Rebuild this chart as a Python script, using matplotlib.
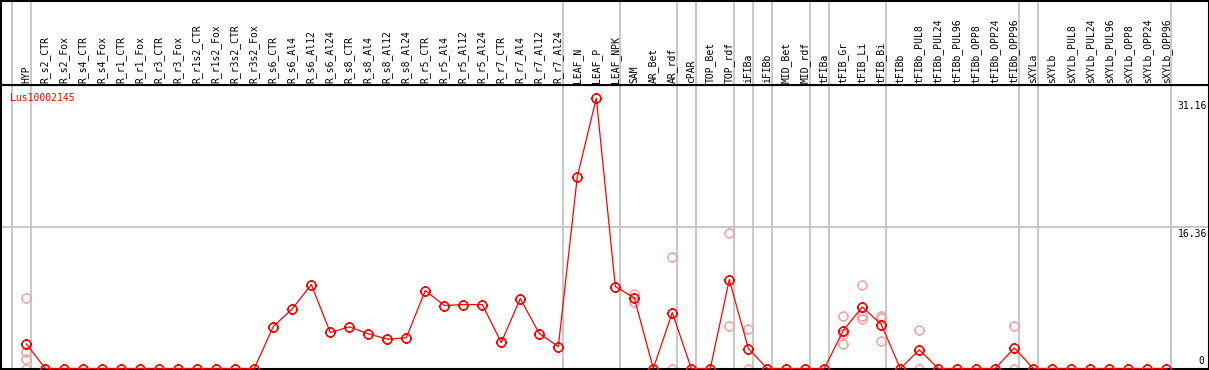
import matplotlib
matplotlib.use('Agg')
import matplotlib.pyplot as plt
import matplotlib.path as mpath

#############
# Data
#############

categories = ['HYP', 'R_s2_CTR', 'R_s2_Fox', 'R_s4_CTR', 'R_s4_Fox', 'R_r1_CTR', 'R_r1_Fox',
              'R_r3_CTR', 'R_r3_Fox', 'R_r1s2_CTR', 'R_r1s2_Fox', 'R_r3s2_CTR', 'R_r3s2_Fox',
              'R_s6_CTR', 'R_s6_Al4', 'R_s6_Al12', 'R_s6_Al24', 'R_s8_CTR', 'R_s8_Al4',
              'R_s8_Al12', 'R_s8_Al24', 'R_r5_CTR', 'R_r5_Al4', 'R_r5_Al12', 'R_r5_Al24',
              'R_r7_CTR', 'R_r7_Al4', 'R_r7_Al12', 'R_r7_Al24', 'LEAF_N', 'LEAF_P', 'LEAF_NPK',
              'SAM', 'AR_Bet', 'AR_rdf', 'cPAR', 'TOP_Bet', 'TOP_rdf', 'iFIBa', 'iFIBb',
              'MID_Bet', 'MID_rdf', 'tFIBa', 'tFIB_Gr', 'tFIB_Li', 'tFIB_Bi', 'tFIBb',
              'tFIBb_PUL8', 'tFIBb_PUL24', 'tFIBb_PUL96', 'tFIBb_OPP8', 'tFIBb_OPP24',
              'tFIBb_OPP96', 'sXYLa', 'sXYLb', 'sXYLb_PUL8', 'sXYLb_PUL24', 'sXYLb_PUL96',
              'sXYLb_OPP8', 'sXYLb_OPP24', 'sXYLb_OPP96']

# mean expression per sample
means = [2.85, 0, 0, 0, 0, 0, 0, 0, 0, 0, 0, 0, 0,
         4.84, 6.88, 9.68, 4.15, 4.80, 4.00, 3.38, 3.54,
         8.99, 7.26, 7.37, 7.37, 3.00, 8.06, 4.03, 2.53,
         22.1, 31.16, 9.45, 8.14, 0, 6.45, 0, 0, 10.25, 2.30, 0,
         0, 0, 0, 4.38, 7.10, 5.07, 0, 2.15, 0, 0, 0, 0, 2.38,
         0, 0, 0, 0, 0, 0, 0, 0]

# individual replicates (only those that show)
rep_cats = ['HYP', 'HYP', 'HYP', 'HYP', 'SAM', 'SAM', 'AR_rdf', 'AR_rdf',
            'TOP_rdf', 'TOP_rdf', 'iFIBa', 'iFIBa', 'tFIB_Gr', 'tFIB_Gr', 'tFIB_Gr',
            'tFIB_Li', 'tFIB_Li', 'tFIB_Li', 'tFIB_Bi', 'tFIB_Bi', 'tFIB_Bi',
            'tFIBb_PUL8', 'tFIBb_PUL8', 'tFIBb_OPP96', 'tFIBb_OPP96']
rep_vals = [8.14, 1.92, 1.15, 0, 8.6, 7.68, 12.9, 0,
            15.63, 4.92, 4.57, 0, 6.07, 3.92, 2.84,
            9.64, 6.07, 5.73, 6.07, 5.8, 3.19,
            4.46, 0, 4.92, 0]

# last sample of each group (a grey line follows it)
group_ends = ['HYP', 'R_r7_Al24', 'LEAF_NPK', 'AR_rdf', 'cPAR', 'TOP_rdf', 'iFIBa',
              'iFIBb', 'MID_rdf', 'tFIBa', 'tFIB_Bi', 'tFIBb_OPP96', 'sXYLa', 'sXYLb_OPP96']

axis_labels = ['31.16', '16.36', '0']
axis_vals = [31.16, 16.36, 0]
gene = 'Lus10002145'

##############
# Create Graph
##############

# circle with little ticks, like the original pixel marker
circ = mpath.Path.circle((0, 0), 1.0)
verts = list(circ.vertices)
codes = list(circ.codes)
for dx, dy in [(1, 0), (-1, 0), (0, 1), (0, -1)]:
    verts += [(dx * 1.0, dy * 1.0), (dx * 1.25, dy * 1.25)]
    codes += [mpath.Path.MOVETO, mpath.Path.LINETO]
tick_circle = mpath.Path(verts, codes)

W, H = 1209, 370
fig = plt.figure(figsize=(W / 100, H / 100), dpi=100)
ax = fig.add_axes([0.5 / W, 1.5 / H, 1208 / W, 283.5 / H])
hx = fig.add_axes([0.5 / W, (H - 85) / H, 1208 / W, 84.5 / H])

x = list(range(len(categories)))
idx = {c: i for i, c in enumerate(categories)}

left = (0.5 - 26.3) / 19
right = (1208.5 - 26.3) / 19
for a in (ax, hx):
    a.set_xlim(left, right)
    a.set_xticks([])
    a.set_yticks([])
    for s in a.spines.values():
        s.set_linewidth(1.5)
        s.set_color('black')
    a.axvline(-1 + 0.23, color='#c4c4c4', lw=1.3, zorder=0)
    for g in group_ends:
        a.axvline(idx[g] + 0.23, color='#c4c4c4', lw=1.3, zorder=0)

ax.set_ylim(0, 32.68)
hx.set_ylim(0, 1)

ax.axhline(16.36, color='#c4c4c4', lw=1.3, zorder=0)

ax.plot([idx[c] for c in rep_cats], rep_vals, linestyle='none', marker=tick_circle,
        markersize=8.0, markerfacecolor='none', markeredgecolor='#f0a0a0',
        markeredgewidth=1.0, zorder=2)
ax.plot(x, means, color='red', lw=0.9, marker=tick_circle, markersize=8.0,
        markerfacecolor='none', markeredgecolor='red', markeredgewidth=1.2, zorder=3)

mono = 'DejaVu Sans Mono'
for i, c in enumerate(categories):
    hx.text(i, 0.02, c, rotation=90, ha='center', va='bottom', fontsize=7, family=mono)

# value labels on the right
for lab, v in zip(axis_labels, axis_vals):
    if v == 0:
        ax.annotate(lab, (1, v), xycoords=('axes fraction', 'data'), xytext=(-3, 2),
                    textcoords='offset points', ha='right', va='bottom', fontsize=7, family=mono)
    else:
        ax.annotate(lab, (1, v), xycoords=('axes fraction', 'data'), xytext=(-1, -2),
                    textcoords='offset points', ha='right', va='top', fontsize=7, family=mono)

fig.text(10 / W, 1 - 98 / H, gene, color='red', ha='left', va='center', fontsize=7, family=mono)

fig.savefig('out.png', dpi=100)
